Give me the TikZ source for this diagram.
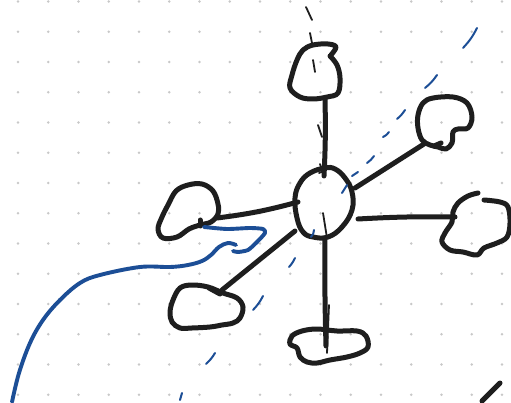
\documentclass[tikz,border=0pt]{standalone}
\begin{document}
\begin{tikzpicture}[x=1pt,y=-1pt,
  ink/.style={line width=5pt,line cap=round,line join=round,color=inkc},
  thinink/.style={line width=1.8pt,line cap=round,color=inkc},
  blueink/.style={line width=3.9pt,line cap=round,line join=round,color=bluec},
  bluedash/.style={line width=2pt,line cap=round,color=bluec},
  gdot/.style={fill=dotc}]
\definecolor{inkc}{RGB}{30,30,30}
\definecolor{bluec}{RGB}{28,78,150}
\definecolor{dotc}{RGB}{200,200,200}
\useasboundingbox (0,0) rectangle (511,403);
\fill[white] (0,0) rectangle (511,403);
% dot grid
\foreach \i in {0,...,16}{\foreach \j in {0,...,13}{\fill[gdot] (18+30.25*\i,1.5+30.25*\j) circle (1.4);}}
% connector end points
\coordinate (cT) at (324,176);
\coordinate (tB) at (325,99);
\coordinate (cTR) at (355,188);
\coordinate (trB) at (424,144);
\coordinate (cR) at (358,219);
\coordinate (rB) at (455,217);
\coordinate (cL) at (298,202);
\coordinate (lB) at (217,218);
\coordinate (cLL) at (295,231);
\coordinate (llB) at (222,290);
\coordinate (cB) at (325,238);
\coordinate (bB) at (326,346);
% central ellipse
\draw[ink] plot[smooth cycle,tension=0.7] coordinates {(325,168) (310,173) (300,183) (295,198) (297,218) (303,232) (313,237) (328,237) (342,227) (352,210) (352,192) (345,178) (335,169)};
% top blob
\draw[ink] plot[smooth,tension=0.6] coordinates {(331,55) (336,47) (328,44) (313,45) (303,50) (297,60) (292,75) (290,88) (300,97) (313,99) (327,97) (338,93) (340,78) (337,65) (330,56)};
% top-right blob
\draw[ink] plot[smooth cycle,tension=0.6] coordinates {(423,103) (433,98) (453,97) (467,103) (472,117) (468,128) (458,129) (453,132) (452,143) (446,149) (438,147) (430,145) (422,140) (418,128) (418,115)};
\draw[ink] (434,146) -- (441,143);
% right blob
\draw[ink] plot[smooth,tension=0.6] coordinates {(478,193) (468,196) (458,203) (453,212) (452,222) (445,233) (442,242) (450,250) (463,252) (477,255) (484,248) (497,243) (507,237) (510,223) (508,207) (500,202) (484,200)};
% left blob
\draw[ink] plot[smooth cycle,tension=0.6] coordinates {(176,191) (188,185) (202,184) (213,191) (218,204) (218,214) (211,222) (200,225) (189,229) (177,237) (163,238) (158,229) (162,217) (168,205)};
\draw[ink] (200,220) -- (200,226);
% lower-left blob
\draw[ink] plot[smooth cycle,tension=0.6] coordinates {(180,288) (192,285) (208,287) (223,293) (237,298) (243,307) (240,318) (233,323) (222,325) (210,327) (192,328) (180,328) (172,322) (170,312) (173,300)};
\draw[ink] (209,288) -- (220,294);
% bottom blob
\draw[ink] plot[smooth cycle,tension=0.6] coordinates {(292,336) (302,331) (317,329) (337,331) (357,331) (366,336) (368,347) (360,353) (347,357) (330,360) (317,363) (307,362) (300,357) (297,348) (290,344)};
% connectors
\draw[ink] (tB) to[bend left=2] (cT);
\draw[ink] (cTR) -- (trB);
\draw[ink] (cR) to[bend left=2] (rB);
\draw[ink] (cL) to[bend left=4] (lB);
\draw[ink] (cLL) -- (llB);
\draw[ink] (cB) to[bend right=1] (bB);
% corner stroke
\coordinate (kA) at (482,401);
\coordinate (kB) at (500,383);
\draw[ink] (kA) -- (kB);
% thin black dashes
\draw[thinink] (306,7) -- (312,20);
\draw[thinink] (310,33) -- (312,43);
\draw[thinink] (313,60) -- (315,72);
\draw[thinink] (318,125) -- (322,137);
\draw[thinink] (320,164) -- (324,176) (319,173) -- (326,170);
\draw[thinink] (323,213) -- (327,238);
\draw[thinink] (329,305) -- (327,353);
% blue dashes
\draw[bluedash] (477,28) to[bend left=8] (463,48);
\draw[bluedash] (437,75) to[bend left=8] (425,88);
\draw[bluedash] (405,110) to[bend left=8] (397,119);
\draw[bluedash] (389,132) to[bend left=15] (383,137);
\draw[bluedash] (374,156) to[bend left=10] (367,163);
\draw[bluedash] (358,172) to[bend left=10] (352,176);
\draw[bluedash] (347,185) -- (342,193);
\draw[bluedash] (314,230) to[bend left=20] (311,237);
\draw[bluedash] (295,258) to[bend left=8] (289,267);
\draw[bluedash] (263,296) to[bend left=8] (253,310);
\draw[bluedash] (215,353) to[bend left=8] (206,364);
\draw[bluedash] (182,393) -- (180,400);
% blue thick stroke
\draw[blueink] plot[smooth,tension=0.4] coordinates {(204,227) (227,229) (250,228) (263,229) (265,233) (257,242) (248,250) (238,252) (233,251)};
\draw[blueink] plot[smooth,tension=0.6] coordinates {(236,245) (228,243) (219,247) (211,255) (202,261) (188,265) (170,267) (140,267) (100,275) (80,283) (60,300) (43,320) (30,343) (19,373) (12,402)};
\end{tikzpicture}
\end{document}
